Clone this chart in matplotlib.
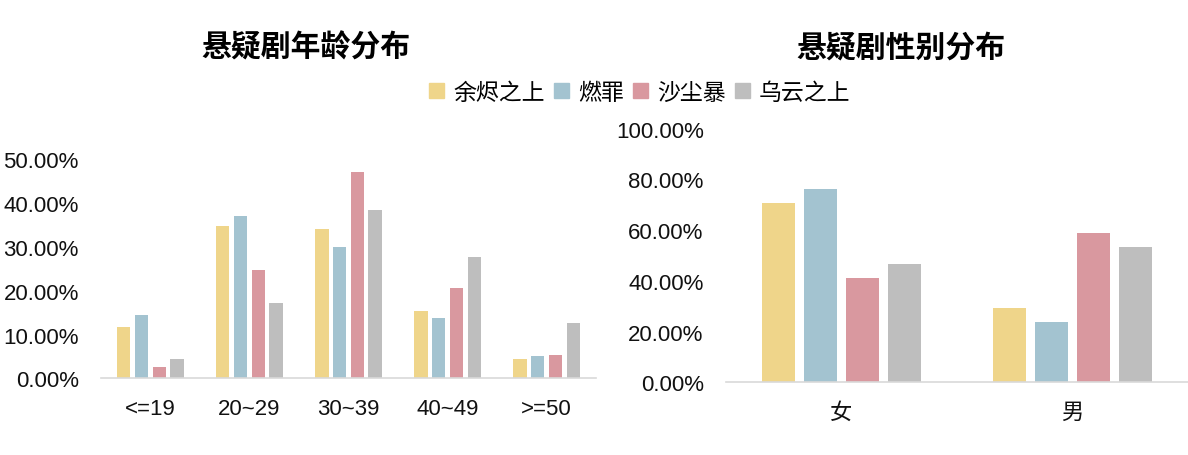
import numpy as np
import matplotlib.pyplot as plt
from matplotlib.ticker import FuncFormatter
from matplotlib.patches import Patch

plt.rcParams['font.family'] = ['Liberation Sans', 'Noto Sans CJK SC', 'DejaVu Sans']

# data
shows = ['余烬之上', '燃罪', '沙尘暴', '乌云之上']
colors = ['#EFD58A', '#A3C3D0', '#D9989F', '#BEBEBE']

age_groups = ['<=19', '20~29', '30~39', '40~49', '>=50']
age_yujin = [0.117, 0.347, 0.341, 0.153, 0.044]
age_ranzui = [0.144, 0.370, 0.300, 0.138, 0.051]
age_shachen = [0.027, 0.248, 0.470, 0.205, 0.053]
age_wuyun = [0.044, 0.173, 0.385, 0.277, 0.126]

genders = ['女', '男']
gen_yujin = [0.707, 0.293]
gen_ranzui = [0.760, 0.240]
gen_shachen = [0.411, 0.589]
gen_wuyun = [0.465, 0.535]

age_series = [age_yujin, age_ranzui, age_shachen, age_wuyun]
gen_series = [gen_yujin, gen_ranzui, gen_shachen, gen_wuyun]

fig = plt.figure(figsize=(11.88, 4.56), dpi=100)
ax1 = fig.add_axes([0.085, 0.168, 0.4167, 0.481])
ax2 = fig.add_axes([0.611, 0.159, 0.389, 0.557])

pct = FuncFormatter(lambda v, p: f'{v*100:.2f}%')


def draw(ax, cats, series, width, pitch, ymax, step):
    x = np.arange(len(cats))
    for i, vals in enumerate(series):
        ax.bar(x + (i - 1.5) * pitch, vals, width, color=colors[i])
    ax.set_xlim(-0.5, len(cats) - 0.5)
    ax.set_ylim(0, ymax)
    ax.set_yticks(np.arange(0, ymax + 1e-9, step))
    ax.yaxis.set_major_formatter(pct)
    ax.set_xticks(x)
    ax.set_xticklabels(cats)
    for s in ['top', 'right', 'left']:
        ax.spines[s].set_visible(False)
    ax.spines['bottom'].set_color('#D9D9D9')
    ax.spines['bottom'].set_linewidth(1.2)
    ax.tick_params(length=0, labelsize=16, colors='#111111')
    ax.tick_params(axis='y', pad=16)
    ax.tick_params(axis='x', pad=14)


draw(ax1, age_groups, age_series, 0.136, 0.18, 0.5, 0.1)
draw(ax2, genders, gen_series, 0.143, 0.182, 1.0, 0.2)

fig.text(306 / 1188, 1 - 48 / 456, '悬疑剧年龄分布', ha='center', va='center',
         fontsize=21.5, fontweight='bold')
fig.text(901 / 1188, 1 - 48 / 456, '悬疑剧性别分布', ha='center', va='center',
         fontsize=21.5, fontweight='bold')

handles = [Patch(color=c) for c in colors]
fig.legend(handles, shows, loc='center', bbox_to_anchor=(640 / 1188, 1 - 93 / 456),
           ncol=4, frameon=False, fontsize=16.5, handlelength=0.65, handleheight=0.65,
           handletextpad=0.4, columnspacing=0.4)

plt.savefig('out.png')
